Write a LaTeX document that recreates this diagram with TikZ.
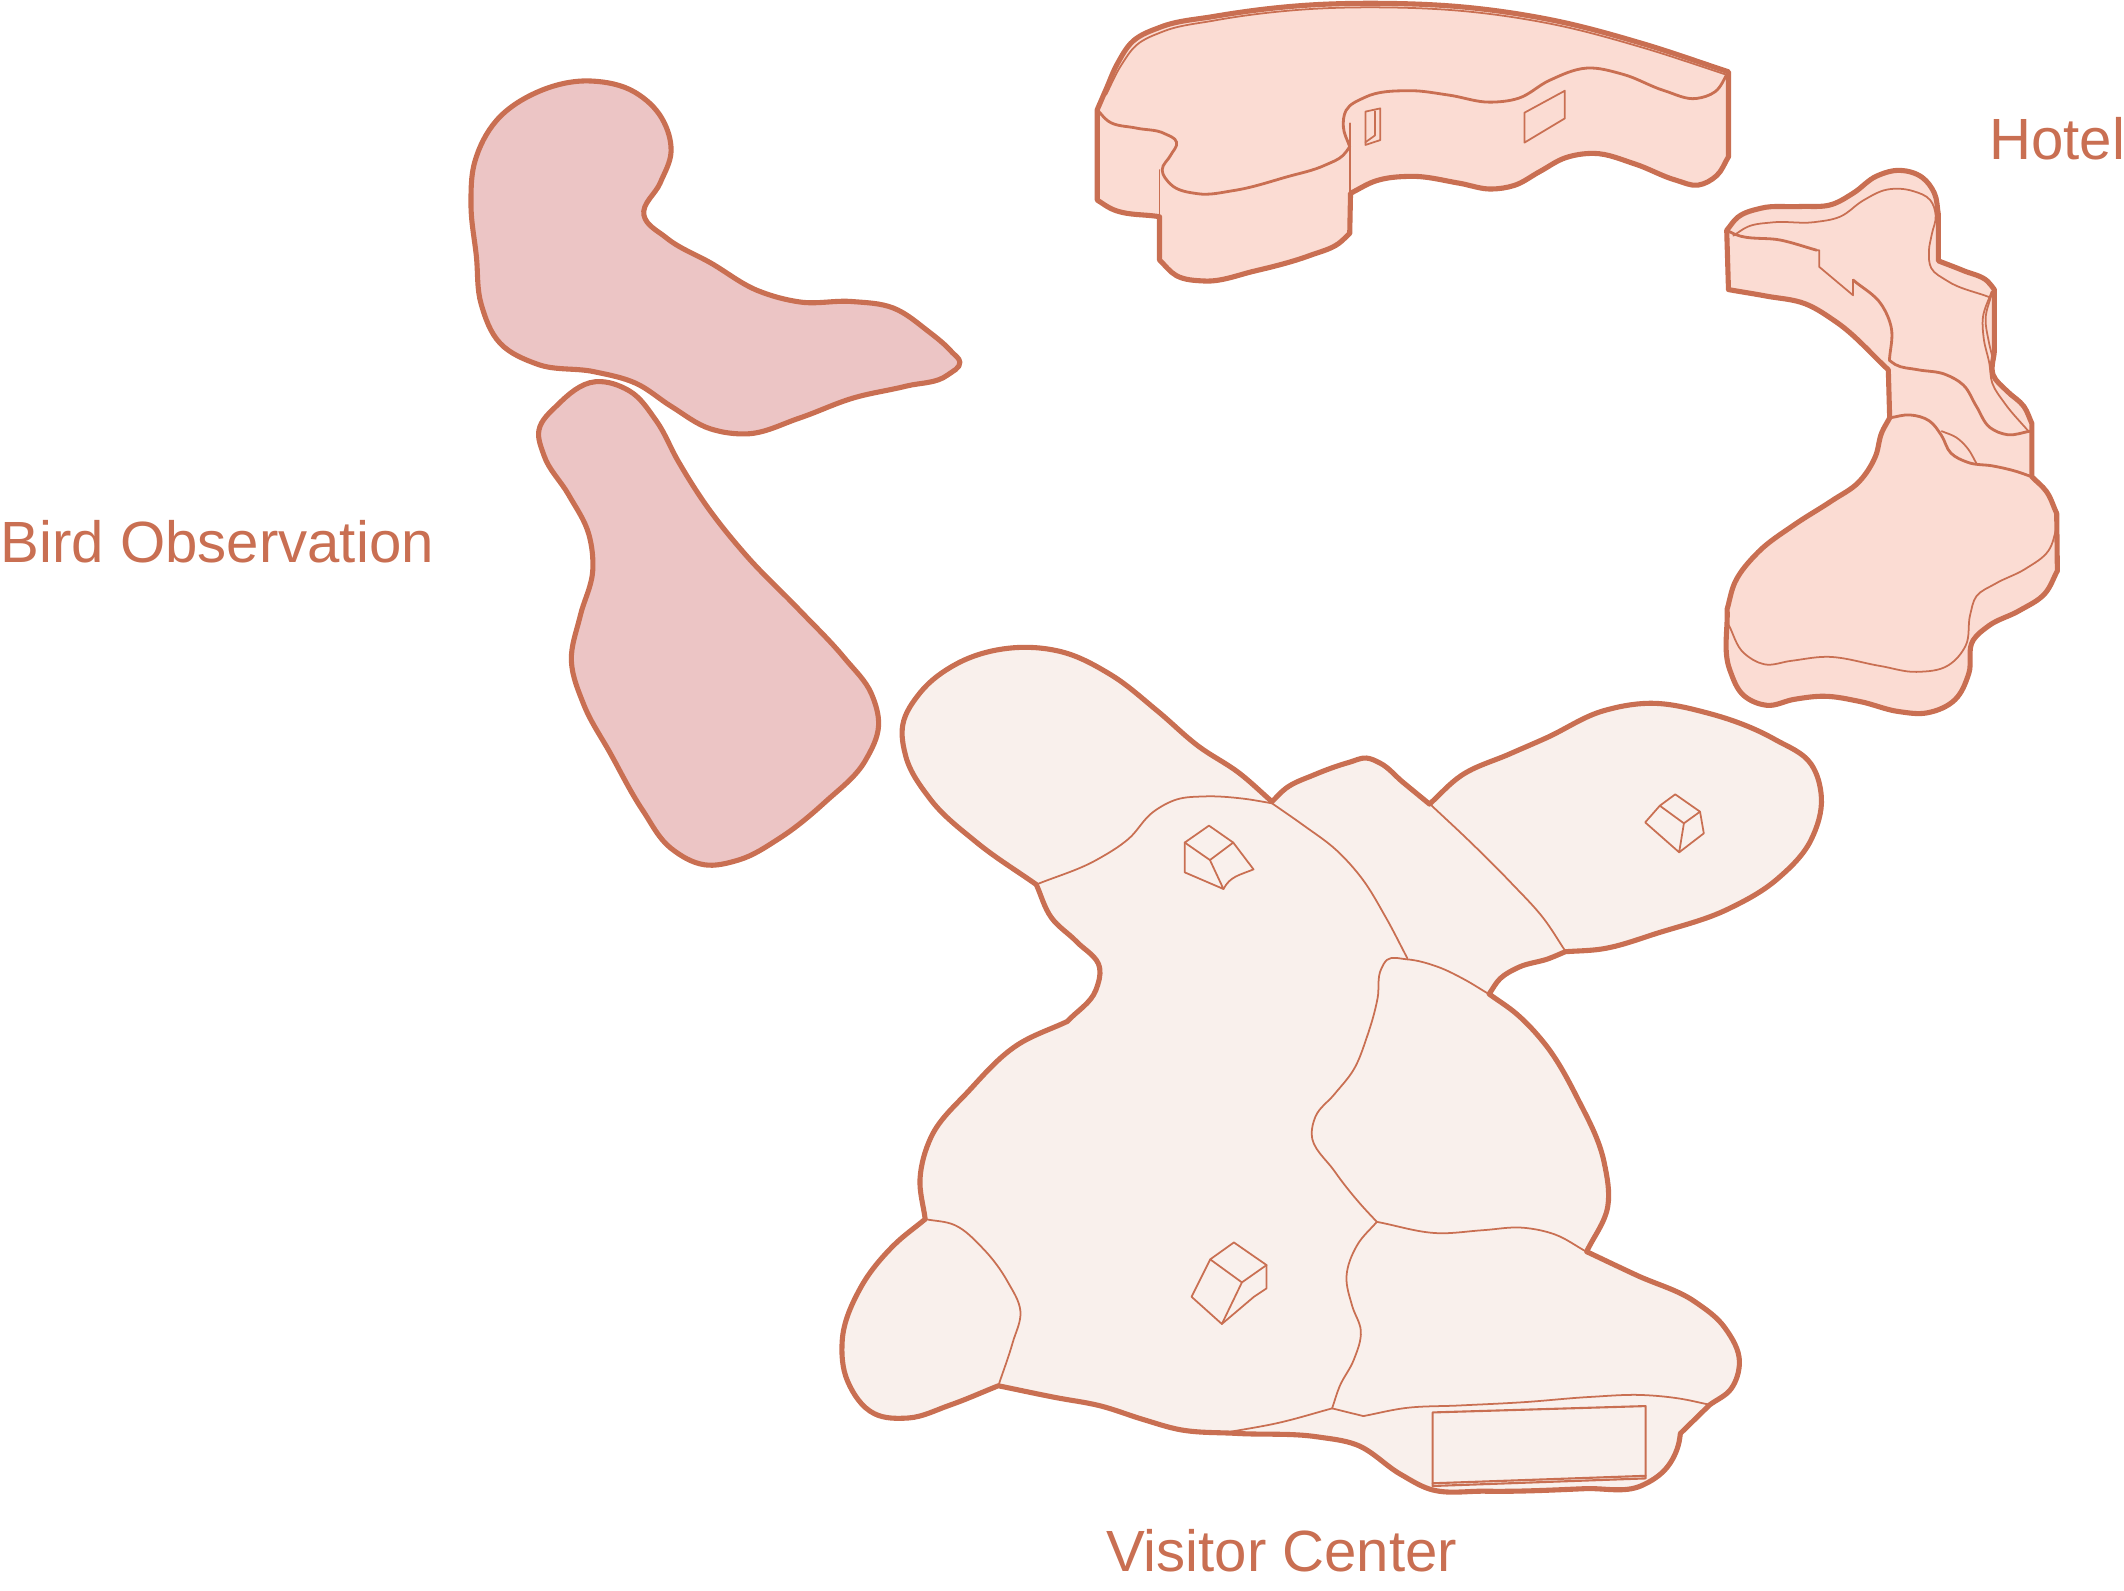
\documentclass[tikz,border=0pt]{standalone}
\usepackage{fontspec}
\setmainfont{Liberation Sans}
\definecolor{ink}{HTML}{C96F52}
\definecolor{hotelfill}{HTML}{FBDCD3}
\definecolor{visitfill}{HTML}{F9F0EC}
\definecolor{birdfill}{HTML}{ECC5C5}
\ExplSyntaxOn
\int_new:N \l_mycv_n_int
\bool_new:N \l_mycv_closed_bool
\tl_new:N \l_mycv_out_tl
\fp_new:N \l_mycv_a_fp
\fp_new:N \l_mycv_b_fp
\fp_new:N \l_mycv_c_fp
\fp_new:N \l_mycv_d_fp
\fp_new:N \l_mycv_e_fp
\fp_new:N \l_mycv_f_fp
\fp_new:N \l_mycv_g_fp
\fp_new:N \l_mycv_h_fp
\fp_new:N \l_mycv_u_fp
\fp_new:N \l_mycv_v_fp
\cs_new:Npn \mycv_x:n #1 { \use:c { mycvx @ \int_eval:n {#1} } }
\cs_new:Npn \mycv_y:n #1 { \use:c { mycvy @ \int_eval:n {#1} } }
\cs_new:Npn \mycv_tx:n #1 { \use:c { mycvtx @ \int_eval:n {#1} } }
\cs_new:Npn \mycv_ty:n #1 { \use:c { mycvty @ \int_eval:n {#1} } }
\cs_new:Npn \mycv_prev:n #1
  {
    \bool_if:NTF \l_mycv_closed_bool
      { \int_compare:nNnTF {#1} = {1} { \int_use:N \l_mycv_n_int } { \int_eval:n { #1 - 1 } } }
      { \int_max:nn {1} { #1 - 1 } }
  }
\cs_new:Npn \mycv_next:n #1
  {
    \bool_if:NTF \l_mycv_closed_bool
      { \int_compare:nNnTF {#1} = { \l_mycv_n_int } { 1 } { \int_eval:n { #1 + 1 } } }
      { \int_min:nn { \l_mycv_n_int } { #1 + 1 } }
  }
\cs_new_protected:Npn \mycv_parse:w (#1,#2)#3 \q_stop
  {
    \int_incr:N \l_mycv_n_int
    \tl_set:cx { mycvx @ \int_use:N \l_mycv_n_int } {#1}
    \tl_set:cx { mycvy @ \int_use:N \l_mycv_n_int } {#2}
    \tl_if_empty:nF {#3} { \mycv_parse:w #3 \q_stop }
  }
\cs_new_protected:Npn \mycv_smoothpt:n #1
  {
    \bool_if:nTF
      { ! \l_mycv_closed_bool && ( \int_compare_p:nNn {#1} = {1} || \int_compare_p:nNn {#1} = { \l_mycv_n_int } ) }
      {
        \tl_set:cx { mycvsx @ #1 } { \mycv_x:n {#1} }
        \tl_set:cx { mycvsy @ #1 } { \mycv_y:n {#1} }
      }
      {
        \tl_set:cx { mycvsx @ #1 } { \fp_eval:n { 0.8 * \mycv_x:n {#1} + 0.1 * \mycv_x:n { \mycv_prev:n {#1} } + 0.1 * \mycv_x:n { \mycv_next:n {#1} } } }
        \tl_set:cx { mycvsy @ #1 } { \fp_eval:n { 0.8 * \mycv_y:n {#1} + 0.1 * \mycv_y:n { \mycv_prev:n {#1} } + 0.1 * \mycv_y:n { \mycv_next:n {#1} } } }
      }
  }
\cs_new_protected:Npn \mycv_copypt:n #1
  {
    \tl_set:cx { mycvx @ #1 } { \use:c { mycvsx @ #1 } }
    \tl_set:cx { mycvy @ #1 } { \use:c { mycvsy @ #1 } }
  }
\cs_new_protected:Npn \mycv_tangent:n #1
  {
    \fp_set:Nn \l_mycv_a_fp { \mycv_x:n {#1} - \mycv_x:n { \mycv_prev:n {#1} } }
    \fp_set:Nn \l_mycv_b_fp { \mycv_y:n {#1} - \mycv_y:n { \mycv_prev:n {#1} } }
    \fp_set:Nn \l_mycv_c_fp { \mycv_x:n { \mycv_next:n {#1} } - \mycv_x:n {#1} }
    \fp_set:Nn \l_mycv_d_fp { \mycv_y:n { \mycv_next:n {#1} } - \mycv_y:n {#1} }
    \fp_set:Nn \l_mycv_e_fp { sqrt( \l_mycv_a_fp ^ 2 + \l_mycv_b_fp ^ 2 ) }
    \fp_set:Nn \l_mycv_f_fp { sqrt( \l_mycv_c_fp ^ 2 + \l_mycv_d_fp ^ 2 ) }
    \fp_compare:nNnTF { \l_mycv_e_fp } = { 0 }
      {
        \fp_set_eq:NN \l_mycv_u_fp \l_mycv_c_fp
        \fp_set_eq:NN \l_mycv_v_fp \l_mycv_d_fp
      }
      {
        \fp_compare:nNnTF { \l_mycv_f_fp } = { 0 }
          {
            \fp_set_eq:NN \l_mycv_u_fp \l_mycv_a_fp
            \fp_set_eq:NN \l_mycv_v_fp \l_mycv_b_fp
          }
          {
            \fp_set:Nn \l_mycv_u_fp { \l_mycv_c_fp / \l_mycv_f_fp * \l_mycv_e_fp + \l_mycv_a_fp / \l_mycv_e_fp * \l_mycv_f_fp }
            \fp_set:Nn \l_mycv_v_fp { \l_mycv_d_fp / \l_mycv_f_fp * \l_mycv_e_fp + \l_mycv_b_fp / \l_mycv_e_fp * \l_mycv_f_fp }
          }
      }
    \fp_set:Nn \l_mycv_g_fp { sqrt( \l_mycv_u_fp ^ 2 + \l_mycv_v_fp ^ 2 ) }
    \tl_set:cx { mycvtx @ #1 } { \fp_eval:n { \l_mycv_u_fp / \l_mycv_g_fp } }
    \tl_set:cx { mycvty @ #1 } { \fp_eval:n { \l_mycv_v_fp / \l_mycv_g_fp } }
  }
\cs_new_protected:Npn \mycv_seg:nn #1#2
  {
    \fp_set:Nn \l_mycv_h_fp { sqrt( ( \mycv_x:n {#2} - \mycv_x:n {#1} ) ^ 2 + ( \mycv_y:n {#2} - \mycv_y:n {#1} ) ^ 2 ) / 3 }
    \tl_put_right:Nx \l_mycv_out_tl
      {
        ~..~controls~
        ( \fp_eval:n { round( \mycv_x:n {#1} + \mycv_tx:n {#1} * \l_mycv_h_fp , 2 ) } ,
          \fp_eval:n { round( \mycv_y:n {#1} + \mycv_ty:n {#1} * \l_mycv_h_fp , 2 ) } )
        ~and~
        ( \fp_eval:n { round( \mycv_x:n {#2} - \mycv_tx:n {#2} * \l_mycv_h_fp , 2 ) } ,
          \fp_eval:n { round( \mycv_y:n {#2} - \mycv_ty:n {#2} * \l_mycv_h_fp , 2 ) } )
        ~..~
        ( \fp_eval:n { round( \mycv_x:n {#2} , 2 ) } , \fp_eval:n { round( \mycv_y:n {#2} , 2 ) } )
      }
  }
\cs_new_protected:Npn \mycv_run:nn #1#2
  {
    \int_zero:N \l_mycv_n_int
    \mycv_parse:w #2 \q_stop
    \int_step_inline:nn { \l_mycv_n_int } { \mycv_smoothpt:n {##1} }
    \int_step_inline:nn { \l_mycv_n_int } { \mycv_copypt:n {##1} }
    \int_step_inline:nn { \l_mycv_n_int } { \mycv_tangent:n {##1} }
    \tl_set:Nx \l_mycv_out_tl { ( \fp_eval:n { round( \mycv_x:n {1} , 2 ) } , \fp_eval:n { round( \mycv_y:n {1} , 2 ) } ) }
    \int_step_inline:nn { \bool_if:NTF \l_mycv_closed_bool { \l_mycv_n_int } { \l_mycv_n_int - 1 } }
      { \mycv_seg:nn {##1} { \mycv_next:n {##1} } }
    \tl_gset_eq:cN {#1} \l_mycv_out_tl
  }
\NewDocumentCommand \mkc { m m } { \bool_set_false:N \l_mycv_closed_bool \mycv_run:nn {#1} {#2} }
\NewDocumentCommand \mkl { m m } { \bool_set_true:N \l_mycv_closed_bool \mycv_run:nn {#1} {#2} }
\ExplSyntaxOff
\NewDocumentCommand \fc { O{} m } {\mkc{cvtmp}{#2}\draw[#1] \cvtmp;}
\NewDocumentCommand \fl { O{} m } {\mkl{cvtmp}{#2}\draw[#1] \cvtmp -- cycle;}
\tikzset{
  heavy/.style={draw=ink,line width=1.45pt,line join=round,line cap=round},
  medium/.style={draw=ink,line width=0.8pt,line join=round,line cap=round},
  fine/.style={draw=ink,line width=0.5pt,line join=round,line cap=round},
  label/.style={text=ink,font=\fontsize{16.55pt}{18pt}\selectfont,inner sep=0pt,anchor=base west}
}
\begin{document}
\begin{tikzpicture}[x=0.013546cm,y=-0.013546cm]
\useasboundingbox (0,0) rectangle (1568,1174.5);
% Bird observation
\fl[heavy,fill=birdfill]{(437,58)(470,67)(490,87)(497,112)(488,135)(472,160)(490,175)(525,194)(560,216)(590,224)(630,222)(660,226)(685,244)(704,261)(710,267)(702,277)(670,285)(630,293)(590,309)(550,322)(525,318)(495,300)(470,282)(440,274)(395,270)(368,255)(354,225)(352,190)(347,150)(349,120)(365,88)(395,67)}
\fl[heavy,fill=birdfill]{(440,279)(465,287)(485,310)(500,340)(520,372)(550,410)(590,450)(625,487)(645,513)(650,535)(641,561)(610,592)(575,620)(545,636)(520,640)(495,628)(475,600)(450,555)(430,520)(420,488)(428,455)(439,420)(436,395)(420,365)(400,335)(396,318)(410,299)}
% Visitor center
\mkc{cva}{(765,653)(720,622)(685,590)(667,557)(665,535)(678,511)(705,489)(745,477)(785,480)(820,497)(855,525)(885,552)(915,570)(939,591.8)}
\mkc{cvb}{(939,591.8)(948,582)(969.4,572)(998,562)(1009,559)(1017.7,562)(1035,577)(1055.3,593.6)}
\mkc{cvc}{(1055.3,593.6)(1076.8,572.1)(1116,556)(1139.4,546)(1185,523)(1215,518)(1260,525)(1313,546.3)(1339,563.5)(1346,588)(1339,620)(1313,649.7)(1277,671.8)(1223.5,689)(1180.5,701.8)(1155.5,702.6)}
\mkc{cvd}{(1155.5,702.6)(1144.8,707.5)(1119.7,714)(1107,722)(1099.3,733.8)}
\mkc{cve}{(1099.3,733.8)(1119.7,748)(1139.4,767.8)(1165,810)(1186,860)(1189,890)(1171.3,924)}
\mkc{cvf}{(1171.3,924)(1207.5,941.3)(1253.6,961)(1274,979)(1286,1006.5)(1279,1026)(1262,1037.2)}
\mkc{cvg}{(1240.5,1058.2)(1240.5,1063)(1230.6,1085)(1214,1098)(1174.6,1098.8)(1092,1101.2)(1052.6,1100)(1036,1090)(999.9,1064.3)(976.8,1060.6)(910.9,1058.2)(868,1055.7)(845,1048.3)(812,1037.2)(780,1032)(737,1023)}
\mkc{cvh}{(737,1023)(700,1038)(670,1048)(645,1046)(624,1020)(620,990)(634,950)(660,918)(683,900)}
\mkc{cvi}{(683,900)(678,870)(685,840)(715,805)(750,770)(788,754)}
\mkc{cvj}{(788,754)(811,730)(814,715)(795,695)(775,678)(765,653)}
\draw[heavy,fill=visitfill] \cva -- \cvb -- \cvc -- \cvd -- \cve -- \cvf -- \cvg -- \cvh -- \cvi -- \cvj -- cycle;
\fc[fine]{(765,653)(812,634.4)(833.5,620)(851.4,598)(869,589.4)(887,587.6)(919,589.4)(939,593)}
\fc[fine]{(939,593)(962,609)(987.3,627.5)(1005,647)(1023,676.7)(1039,707.5)}
\fc[fine]{(1056.4,594.3)(1084,620)(1116,652)(1141,679)(1155.5,702)}
\fc[fine]{(1099,733.8)(1080,722.3)(1062.5,713.6)(1037,707.5)(1023,708)(1019.5,713.6)(1017.7,735.8)(1009,766.6)(1000,790)(985,808)(970,825)(966,835)(985,865)(1005,890)(1016.4,902)}
\fc[fine]{(1016.4,902)(1062.5,911.7)(1095.5,908)(1125,905.6)(1148,910.5)(1171,924)}
\fc[fine]{(1016.4,902)(1001.5,918)(992.6,942.5)(998,964.7)(1006,982)(1000,1004)(988.3,1023.7)(983.4,1039.7)}
\fc[fine]{(906,1057.4)(943.8,1050.8)(983.4,1039.7)}
\draw[fine] (983.4,1039.7) -- (1006.5,1045.4);
\fc[fine]{(1006.5,1045.4)(1036,1039)(1075.7,1037.7)(1125,1035.3)(1174.6,1031)(1214,1029.4)(1240.5,1032.3)(1262,1037)}
\fc[fine]{(683,900)(705,903)(725,920)(745,947)(755,968)(748,990)(737,1023)}
\draw[medium,line width=0.6pt] (1057.6,1042.7) -- (1214.8,1038) -- (1214.8,1091.4) -- (1057.6,1097) -- cycle;
\draw[medium,line width=0.6pt] (1057.6,1095) -- (1214.8,1089.5);
% cubes
\draw[fine] (874.6,622) -- (892.5,609.5) -- (910.4,622) -- (893.2,634.9) -- cycle;
\draw[fine] (874.6,622) -- (874.6,644) -- (903.2,656.3) -- (893.2,634.9);
\draw[fine] (903.2,656.3) .. controls (908,647) and (915,646) .. (925.4,641.8) -- (910.4,622);
\draw[fine] (1225.3,594.8) -- (1236.7,586.4) -- (1255,599.2) -- (1243.1,607.8) -- cycle;
\draw[fine] (1225.3,594.8) -- (1214.5,607.1) -- (1239.6,629.2) -- (1243.1,607.8);
\draw[fine] (1239.6,629.2) -- (1257.8,615.2) -- (1255,599.2);
\draw[fine] (893.4,929.7) -- (910.9,917.2) -- (935,933.9) -- (916.8,946.7) -- cycle;
\draw[fine] (893.4,929.7) -- (879.6,957.3) -- (902,977.4) -- (916.8,946.7);
\draw[fine] (902,977.4) -- (925.7,957.3) -- (935,951.1) -- (935,933.9);
% Hotel, north wing
\mkc{cvk}{(810,81)(816.5,66)(824.5,47)(835.7,29.5)(855,19.7)(893.3,12.3)(957.3,3.7)(1021,2)(1085.4,5)(1149.4,14.8)(1213.4,32)(1276,53)}
\mkc{cvl}{(1276,115.7)(1267.9,130.4)(1253.5,137.8)(1239,134)(1207,120.6)(1175,112)(1155.8,115.7)(1136.6,126.7)(1117.4,137.8)(1101.4,140.3)(1079,135.4)(1040.6,129.2)(1015,132.9)(997,142.7)}
\mkc{cvm}{(996.4,172.3)(989.4,179.7)(970,188)(925.3,200.6)(887,208.7)(867.7,204.3)(856,192)}
\mkc{cvn}{(856,160)(816.5,153.8)(810,147.7)}
\draw[heavy,fill=hotelfill] \cvk -- \cvl -- \cvm -- \cvn -- cycle;
\fc[medium]{(810,81)(816.5,89.8)(839,94.7)(861,98.4)(870,104.6)(864.5,114.4)(856.5,125.5)(863,136.6)(883.7,144)(909.3,141.5)(951,130.4)(979.8,121.8)(992.6,114.4)(996.4,108.3)}
\fc[medium]{(996.4,108.3)(991,93.5)(992.6,81.2)(1005.4,71.4)(1040.6,66)(1069.4,70)(1101.4,76.3)(1120.6,73.8)(1143,59)(1171.8,48.7)(1197.4,54)(1229.4,67.7)(1253.5,73.8)(1266.3,68.9)(1276,53)}
\fc[fine]{(816.5,70)(828,47)(838,33)(857,23)(893.3,15.3)(957.3,6.7)(1021,5)(1085.4,8)(1149.4,17.8)(1213.4,35)(1274,55)}
\draw[fine] (856,125.5) -- (856,160);
\draw[fine] (996.4,91) -- (996.4,142.7);
\draw[fine] (1008,82.4) -- (1019,80) -- (1019,103.4) -- (1008,107) -- cycle;
\draw[fine] (1015,82) -- (1015,100) -- (1008,105);
\draw[fine] (1125.4,83.2) -- (1155.2,67) -- (1155.2,87.4) -- (1125.4,105.3) -- cycle;
% Hotel, east wing and lobe
\mkc{cvo}{(1274.7,170)(1282,160)(1299,153)(1329,152.5)(1353.4,151.7)(1368,143)(1385.4,129)(1402.7,124.8)(1420,130.5)(1428.5,141.8)(1431,158.7)}
\mkc{cvp}{(1431,192.6)(1449.4,199.7)(1469,208)(1472.3,213.8)}
\mkc{cvq}{(1472.3,259)(1470,277.4)(1481.4,288.7)(1495,300)(1500,312.7)}
\mkc{cvr}{(1500,352)(1511,362)(1518.3,379)}
\mkc{cvs}{(1518.8,421.4)(1511,438.4)(1491,451)(1466.6,462.4)(1455.6,470.9)(1454.3,497.7)(1444.5,517.5)(1422.3,527.4)(1402.7,526)(1373,517.5)(1346,513.3)(1324,516)(1304,522)(1287,514.7)(1276,497.7)(1275,449.7)}
\mkc{cvt}{(1275,449.7)(1279.6,430)(1297,407.3)(1324,387.5)(1353.4,369)(1373,356.5)(1385.4,336.7)(1389,318.3)(1395,308.5)}
\mkc{cvu}{(1394,273)(1353.4,235)(1333.8,223.7)(1304,218.6)(1276,213.8)}
\draw[heavy,fill=hotelfill] \cvo -- \cvp -- \cvq -- \cvr -- \cvs -- \cvt -- \cvu -- cycle;
\fc[medium]{(1395,308.5)(1410,305.6)(1424.8,310)(1433.4,321)(1439.6,335.3)(1452,341.8)(1471.6,343.8)(1489,348)(1500,352)}
\fc[fine]{(1518.8,387.5)(1513.4,407.3)(1496,420)(1471.6,431.4)(1458,439.8)(1454.3,452.5)(1452,478)(1439.6,492)(1415,497)(1390,492)(1346,483.6)(1321.4,488)(1301.8,491.5)(1287,483.6)(1276,461)}
\fc[fine]{(1433.4,318.3)(1444.5,322.6)(1453,331)(1459,342)}
\fc[medium]{(1274.7,170)(1277,172.8)(1316.5,177)(1341,184.7)}
\draw[fine] (1341,184.7) -- (1343,184.7) -- (1343,197) -- (1368,218) -- (1368,206.7);
\fc[medium]{(1368,206.7)(1390.4,225)(1397,240.6)(1394.8,266)}
\fc[medium]{(1394.8,266)(1397.7,269)(1415,273)(1437,276)(1449.4,283)(1459,300)(1469,317)(1481.4,321.7)(1498.6,318.3)}
\fc[fine]{(1279.6,174)(1289.5,167)(1306.7,163.8)(1341,164.4)(1358.4,161)(1375.6,147.4)(1392.8,139)(1412.5,140.4)(1426,147.4)(1429.7,158.7)(1426,173)(1423.6,185.6)(1424.8,198.3)(1434.7,206.7)(1469,219.5)}
\fc[fine]{(1470.3,215.2)(1463,235)(1464,249)(1469,269)(1470,283)(1479,297)(1497.4,318.3)}
\fc[fine]{(1470.3,217)(1465,235)(1468,252)(1472,268)}
% Labels
\node[label] (birdlabel) at (0,415) {Bird Observation};
\node[label] (hotellabel) at (1468,118) {Hotel};
\node[label] (visitorlabel) at (816,1160) {Visitor Center};
\end{tikzpicture}
\end{document}
